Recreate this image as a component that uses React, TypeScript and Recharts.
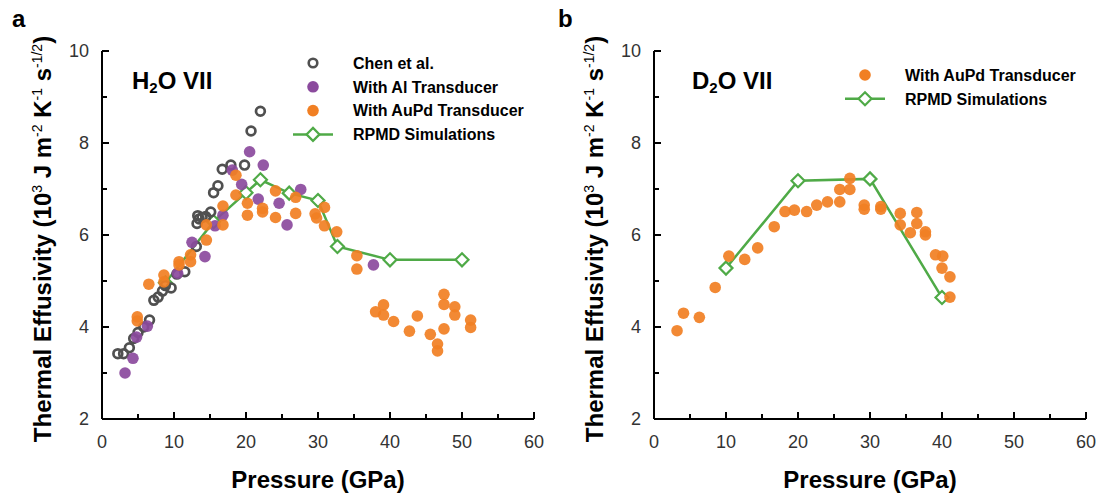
import React from "react"
import { ScatterChart, Scatter, XAxis, YAxis, Legend } from "recharts"

const FONT = "'Liberation Sans', Arial, Helvetica, sans-serif"

const pressureTicks = [0, 5, 10, 15, 20, 25, 30, 35, 40, 45, 50, 55, 60]
const effusivityTicks = [2, 3, 4, 5, 6, 7, 8, 9, 10]

// panel a: H2O VII
const chenPressure = [2.2, 3.0, 3.8, 4.4, 5.0, 5.8, 6.6, 7.2, 7.8, 8.4, 8.8, 9.6, 10.4, 11.5, 13.1, 13.2, 13.3, 13.5, 13.9, 14.4, 15.1, 15.5, 16.1, 16.7, 17.9, 19.8, 20.7, 22.0]
const chenEffusivity = [3.42, 3.42, 3.55, 3.75, 3.88, 4.0, 4.15, 4.58, 4.65, 4.78, 4.9, 4.85, 5.15, 5.2, 5.75, 6.25, 6.42, 6.35, 6.38, 6.4, 6.5, 6.92, 7.07, 7.43, 7.52, 7.52, 8.26, 8.69]

const alPressure = [3.2, 4.3, 4.8, 6.3, 10.5, 12.5, 14.3, 15.7, 16.8, 18.1, 19.4, 20.5, 21.7, 22.4, 24.6, 25.7, 27.6, 37.7]
const alEffusivity = [3.0, 3.32, 3.78, 4.02, 5.17, 5.84, 5.53, 6.2, 6.43, 7.41, 7.1, 7.81, 6.78, 7.52, 6.69, 6.22, 6.99, 5.35]

const auPdPressureA = [4.9, 4.9, 6.5, 8.6, 8.6, 10.7, 10.7, 12.3, 12.3, 14.5, 14.5, 16.8, 16.8, 18.6, 18.6, 20.2, 20.2, 22.3, 22.3, 24.1, 24.1, 26.9, 26.9, 29.6, 29.8, 30.9, 30.9, 32.6, 35.4, 35.4, 38.0, 39.1, 39.1, 40.5, 42.7, 43.8, 45.6, 46.6, 46.6, 47.5, 47.5, 47.5, 49.0, 49.0, 51.2, 51.2]
const auPdEffusivityA = [4.22, 4.13, 4.93, 5.13, 4.98, 5.42, 5.35, 5.57, 5.42, 5.89, 6.22, 6.63, 6.22, 7.3, 6.87, 6.69, 6.43, 6.58, 6.5, 6.96, 6.38, 6.82, 6.47, 6.46, 6.37, 6.6, 6.2, 6.07, 5.55, 5.26, 4.33, 4.48, 4.26, 4.12, 3.91, 4.24, 3.84, 3.63, 3.48, 4.71, 4.49, 3.96, 4.44, 4.26, 4.15, 3.99]

const rpmdPressureA = [8.8, 15.5, 20, 22, 26, 30, 32.7, 40, 50]
const rpmdEffusivityA = [4.96, 6.29, 6.92, 7.2, 6.91, 6.75, 5.75, 5.46, 5.46]

// panel b: D2O VII
const auPdPressureB = [3.2, 4.1, 6.3, 8.5, 10.4, 12.6, 14.4, 16.7, 18.2, 19.5, 21.2, 22.6, 24.1, 25.8, 25.8, 27.2, 27.2, 29.2, 29.2, 31.5, 31.5, 34.2, 34.2, 35.6, 36.5, 36.5, 37.7, 37.7, 39.1, 40.1, 40.0, 41.1, 41.1]
const auPdEffusivityB = [3.92, 4.3, 4.21, 4.86, 5.54, 5.47, 5.72, 6.18, 6.51, 6.54, 6.51, 6.65, 6.72, 6.99, 6.72, 7.23, 6.99, 6.65, 6.56, 6.62, 6.56, 6.47, 6.22, 6.05, 6.49, 6.25, 6.07, 6.0, 5.57, 5.54, 5.28, 5.09, 4.65]

const rpmdPressureB = [10, 20, 30, 40]
const rpmdEffusivityB = [5.28, 7.18, 7.22, 4.64]

const zip = (p: number[], e: number[]) => p.map((v, i) => ({ p: v, e: e[i] }))

const ORANGE = "#F17F23"
const PURPLE = "#8B4A9D"
const GRAY = "#505050"
const GREEN = "#4FAA47"

const X_MARGIN = 16
const Y_MARGIN = 13
const frameLine = { stroke: "#000", strokeWidth: 2 }

const XTick = (props: any) => {
  const { x, y, payload } = props
  const major = payload.value % 10 === 0
  const axisY = y - X_MARGIN
  return (
    <g>
      <line x1={x} x2={x} y1={axisY} y2={axisY - (major ? 7 : 5)} stroke="#000" strokeWidth={2} />
      {major && (
        <text x={x} y={y} dy="0.71em" textAnchor="middle" fontSize={18} fill="#333" fontFamily={FONT}>
          {payload.value}
        </text>
      )}
    </g>
  )
}

const YTick = (props: any) => {
  const { x, y, payload } = props
  const major = payload.value % 2 === 0
  const axisX = x + Y_MARGIN
  return (
    <g>
      <line x1={axisX} x2={axisX + (major ? 7 : 5)} y1={y} y2={y} stroke="#000" strokeWidth={2} />
      {major && (
        <text x={x} y={y} dy="0.355em" textAnchor="end" fontSize={18} fill="#333" fontFamily={FONT}>
          {payload.value}
        </text>
      )}
    </g>
  )
}

const YTitle = (props: any) => {
  const vb = props.viewBox
  const cx = vb.x + 51
  const cy = vb.y + vb.height / 2 + 4
  const sup = { fontSize: 14, fontWeight: "normal" as const }
  return (
    <text x={cx} y={cy} transform={`rotate(-90 ${cx} ${cy})`} textAnchor="middle" fontSize={24} fontWeight="bold" fill="#000" fontFamily={FONT}>
      Thermal Effusivity (10
      <tspan dy={-9} {...sup}>3</tspan>
      <tspan dy={9}> J m</tspan>
      <tspan dy={-9} {...sup}>-2</tspan>
      <tspan dy={9}> K</tspan>
      <tspan dy={-9} {...sup}>-1</tspan>
      <tspan dy={9}> s</tspan>
      <tspan dy={-9} {...sup}>-1/2</tspan>
      <tspan dy={9}>)</tspan>
    </text>
  )
}

const XTitle = (props: any) => {
  const vb = props.viewBox
  return (
    <text x={vb.x + vb.width / 2} y={488} textAnchor="middle" fontSize={24} fontWeight="bold" fill="#000" fontFamily={FONT}>
      Pressure (GPa)
    </text>
  )
}

type Item = { label: string; kind: "ring" | "dot" | "diamond"; color: string }

const legendContent = (items: Item[]) => () => (
  <svg width={280} height={items.length * 24 + 4} style={{ display: "block" }}>
    {items.map((it, i) => {
      const cy = 13 + i * 23.8
      return (
        <g key={it.label}>
          {it.kind === "ring" && <circle cx={25} cy={cy} r={4.3} fill="none" stroke={it.color} strokeWidth={2.6} />}
          {it.kind === "dot" && <circle cx={25} cy={cy} r={5.8} fill={it.color} />}
          {it.kind === "diamond" && (
            <g>
              <line x1={5} x2={45} y1={cy} y2={cy} stroke={it.color} strokeWidth={2.5} />
              <path d={`M25,${cy - 6.5}L31.5,${cy}L25,${cy + 6.5}L18.5,${cy}Z`} fill="#fff" stroke={it.color} strokeWidth={2.2} />
            </g>
          )}
          <text x={65} y={cy} dy="0.36em" fontSize={16} fontWeight="bold" fill="#000" fontFamily={FONT}>
            {it.label}
          </text>
        </g>
      )
    })}
  </svg>
)

const ringShape = (p: any) => <circle cx={p.cx} cy={p.cy} r={4.4} fill="none" stroke={GRAY} strokeWidth={2.7} />
const dotShape = (color: string) => (p: any) => <circle cx={p.cx} cy={p.cy} r={5.8} fill={color} fillOpacity={0.92} />
const diamondShape = (p: any) => (
  <path
    d={`M${p.cx},${p.cy - 6.5}L${p.cx + 6.5},${p.cy}L${p.cx},${p.cy + 6.5}L${p.cx - 6.5},${p.cy}Z`}
    fill="#fff"
    stroke={GREEN}
    strokeWidth={2.2}
  />
)

function Panel({ children, items, legendTop }: { children: React.ReactNode; items: Item[]; legendTop: number }) {
  return (
    <ScatterChart width={552} height={495} margin={{ top: 51, right: 18, bottom: 0, left: 0 }}>
      <XAxis
        type="number"
        dataKey="p"
        domain={[0, 60]}
        ticks={pressureTicks}
        interval={0}
        allowDataOverflow
        height={76}
        stroke="#000"
        axisLine={frameLine}
        tickLine={false}
        tickSize={0}
        tickMargin={X_MARGIN}
        tick={<XTick />}
        label={<XTitle />}
      />
      <XAxis xAxisId="top" orientation="top" type="number" domain={[0, 60]} height={0} stroke="#000" tick={false} tickLine={false} axisLine={frameLine} />
      <YAxis
        type="number"
        dataKey="e"
        domain={[2, 10]}
        ticks={effusivityTicks}
        interval={0}
        allowDataOverflow
        width={102}
        stroke="#000"
        axisLine={frameLine}
        tickLine={false}
        tickSize={0}
        tickMargin={Y_MARGIN}
        tick={<YTick />}
        label={<YTitle />}
      />
      <YAxis yAxisId="right" orientation="right" type="number" domain={[2, 10]} width={0} stroke="#000" tick={false} tickLine={false} axisLine={frameLine} />
      {children}
      <Legend
        layout="vertical"
        align="center"
        verticalAlign="middle"
        wrapperStyle={{ left: 288, top: legendTop, width: 280 }}
        content={legendContent(items)}
      />
    </ScatterChart>
  )
}

export default function App() {
  return (
    <div style={{ position: "absolute", left: 0, top: 0, width: 1104, height: 495, background: "#fff", fontFamily: FONT }}>
      <div style={{ position: "absolute", left: 0, top: 0 }}>
        <Panel
          legendTop={50}
          items={[
            { label: "Chen et al.", kind: "ring", color: GRAY },
            { label: "With Al Transducer", kind: "dot", color: PURPLE },
            { label: "With AuPd Transducer", kind: "dot", color: ORANGE },
            { label: "RPMD Simulations", kind: "diamond", color: GREEN },
          ]}
        >
          <Scatter name="RPMD Simulations" data={zip(rpmdPressureA, rpmdEffusivityA)} line={{ stroke: GREEN, strokeWidth: 2.5 }} shape={diamondShape} isAnimationActive={false} />
          <Scatter name="Chen et al." data={zip(chenPressure, chenEffusivity)} shape={ringShape} isAnimationActive={false} />
          <Scatter name="With Al Transducer" data={zip(alPressure, alEffusivity)} shape={dotShape(PURPLE)} isAnimationActive={false} />
          <Scatter name="With AuPd Transducer" data={zip(auPdPressureA, auPdEffusivityA)} shape={dotShape(ORANGE)} isAnimationActive={false} />
        </Panel>
      </div>
      <div style={{ position: "absolute", left: 552, top: 0 }}>
        <Panel
          legendTop={62}
          items={[
            { label: "With AuPd Transducer", kind: "dot", color: ORANGE },
            { label: "RPMD Simulations", kind: "diamond", color: GREEN },
          ]}
        >
          <Scatter name="RPMD Simulations" data={zip(rpmdPressureB, rpmdEffusivityB)} line={{ stroke: GREEN, strokeWidth: 2.5 }} shape={diamondShape} isAnimationActive={false} />
          <Scatter name="With AuPd Transducer" data={zip(auPdPressureB, auPdEffusivityB)} shape={dotShape(ORANGE)} isAnimationActive={false} />
        </Panel>
      </div>
      <svg width={1104} height={495} style={{ position: "absolute", left: 0, top: 0, pointerEvents: "none" }}>
        <g fontFamily={FONT} fontWeight="bold" fill="#000">
          <text x={12} y={27} fontSize={24}>a</text>
          <text x={558} y={27} fontSize={24}>b</text>
          <text x={132} y={89} fontSize={24}>
            H<tspan fontSize={15} dy={4}>2</tspan><tspan dy={-4}>O VII</tspan>
          </text>
          <text x={692} y={89} fontSize={24}>
            D<tspan fontSize={15} dy={4}>2</tspan><tspan dy={-4}>O VII</tspan>
          </text>
        </g>
      </svg>
    </div>
  )
}
